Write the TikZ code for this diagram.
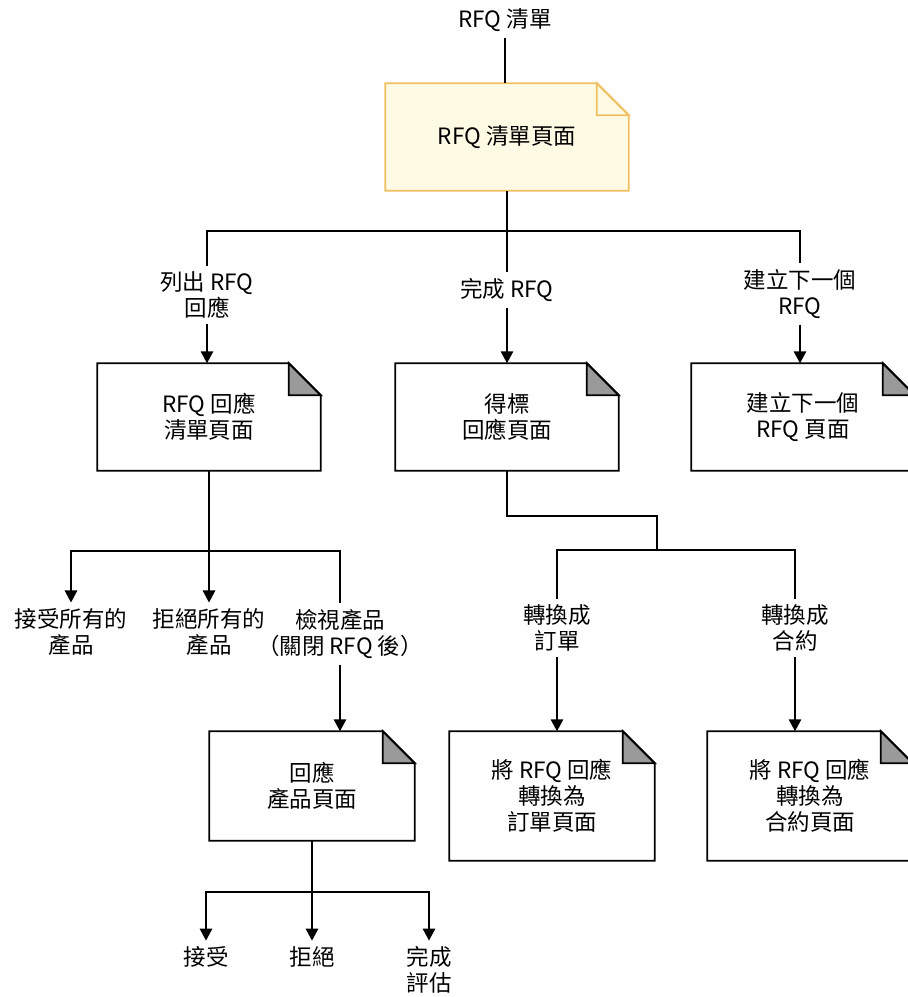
\documentclass[tikz,border=0pt]{standalone}
\usepackage{fontspec}
\setmainfont{Noto Sans CJK TC}
\usetikzlibrary{arrows.meta}

\definecolor{notefill}{HTML}{FFFAE3}
\definecolor{noteline}{HTML}{F0C060}
\definecolor{foldgray}{HTML}{9A9A9A}

% page outline with a folded top right corner
\newcommand{\dogear}[3]{%
  \fill[white] ([xshift=-0.64cm]#1.north east) -- (#1.north east) -- ([yshift=-0.64cm]#1.north east) -- cycle;
  \draw[#3] (#1.south west) -- (#1.north west) -- ([xshift=-0.64cm]#1.north east)
    -- ([yshift=-0.64cm]#1.north east) -- (#1.south east) -- cycle;
  \draw[#3,fill=#2] ([xshift=-0.64cm]#1.north east) -- ([xshift=-0.64cm,yshift=-0.64cm]#1.north east)
    -- ([yshift=-0.64cm]#1.north east) -- cycle;}

\begin{document}
\begin{tikzpicture}[>={Triangle[width=0.25cm,length=0.24cm]},line width=0.85pt,
    every node/.style={font=\fontsize{12.8}{14.8}\selectfont,align=center,inner sep=3pt},
    pagebox/.style={minimum width=4.44cm,minimum height=2.12cm,inner sep=0pt}]
  \useasboundingbox (0,0) rectangle (18.16,-19.94);
  % pages
  \node[pagebox,minimum width=4.84cm,fill=notefill] (list) at (10.14,-2.74) {RFQ 清單頁面};
  \node[pagebox] (resp) at (4.18,-8.34) {RFQ 回應\\清單頁面};
  \node[pagebox] (award) at (10.14,-8.34) {得標\\回應頁面};
  \node[pagebox] (next) at (16.06,-8.34) {建立下一個\\RFQ 頁面};
  \node[pagebox,minimum width=4.08cm,minimum height=2.16cm] (prod) at (6.24,-15.72) {回應\\產品頁面};
  \node[pagebox,minimum width=4.08cm,minimum height=2.56cm] (order) at (11.04,-15.92) {將 RFQ 回應\\轉換為\\訂單頁面};
  \node[pagebox,minimum width=4.08cm,minimum height=2.56cm] (contract) at (16.2,-15.92) {將 RFQ 回應\\轉換為\\合約頁面};
  \dogear{list}{notefill}{noteline,line width=1.1pt}
  \foreach \p in {resp,award,next,prod,order,contract}
    \dogear{\p}{foldgray}{black,line width=1.1pt};
  % labels
  \node (title) at (10.1,-0.4) {RFQ 清單};
  \node (showresp) at (4.14,-5.9) {列出 RFQ\\回應};
  \node (done) at (10.14,-5.8) {完成 RFQ};
  \node (mknext) at (16.0,-5.88) {建立下一個\\RFQ};
  \node (acceptall) at (1.42,-12.64) {接受所有的\\產品};
  \node (rejectall) at (4.18,-12.64) {拒絕所有的\\產品};
  \node (review) at (6.8,-12.68) {檢視產品\\（關閉 RFQ 後）};
  \node (toorder) at (11.14,-12.56) {轉換成\\訂單};
  \node (tocontract) at (15.9,-12.56) {轉換成\\合約};
  \node (accept) at (4.12,-19.14) {接受};
  \node (reject) at (6.24,-19.14) {拒絕};
  \node (finish) at (8.58,-19.4) {完成\\評估};
  % top
  \draw (title.south) -- (title.south |- list.north);
  \coordinate (j1) at (10.14,-4.62);
  \draw (list.south) -- (j1) -| (showresp.north);
  \draw (j1) -| (mknext.north);
  \draw (j1) -- (done.north);
  \draw[->] (showresp.south) -- (showresp.south |- resp.north);
  \draw[->] (done.south) -- (done.south |- award.north);
  \draw[->] (mknext.south) -- (mknext.south |- next.north);
  % responses list
  \coordinate (j2) at (4.18,-11.02);
  \draw (resp.south) -- (j2);
  \draw[->] (j2) -| (acceptall.north);
  \draw[->] (j2) -- (rejectall.north);
  \draw (j2) -| (review.north);
  \draw[->] (review.south) -- (review.south |- prod.north);
  % awarded responses
  \coordinate (j3) at (13.14,-11.0);
  \draw (award.south) -- ++(0,-0.9) -| (j3);
  \draw (j3) -| (toorder.north);
  \draw (j3) -| (tocontract.north);
  \draw[->] (toorder.south) -- (toorder.south |- order.north);
  \draw[->] (tocontract.south) -- (tocontract.south |- contract.north);
  % product page
  \coordinate (j4) at (6.24,-17.84);
  \draw (prod.south) -- (j4);
  \draw[->] (j4) -| (accept.north);
  \draw[->] (j4) -- (reject.north);
  \draw[->] (j4) -| (finish.north);
\end{tikzpicture}
\end{document}
